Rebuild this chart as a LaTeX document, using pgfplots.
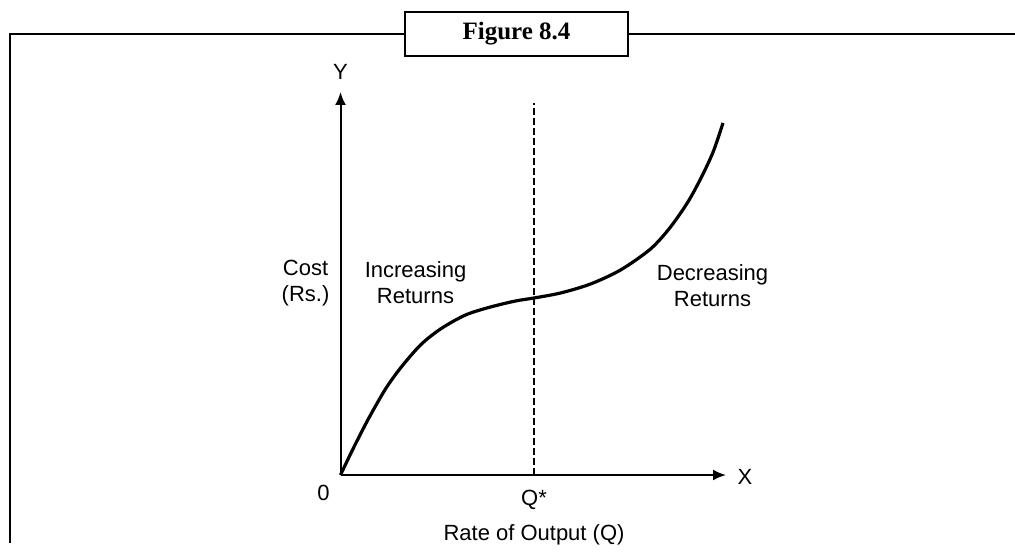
\documentclass[border=0pt]{standalone}
\usepackage{pgfplots}
\pgfplotsset{compat=1.18}
\usetikzlibrary{arrows.meta}
\usepackage{fontspec}
\setmainfont{Liberation Sans}
\newfontfamily\serifbold{Liberation Serif}
\begin{document}
\begin{tikzpicture}
\begin{scope}[x=0.5pt,y=-0.5pt,yshift=271.5pt]
% canvas 1015 x 543 px, y downward
\useasboundingbox (0,0) rectangle (1015,543);
\draw[line width=1.1pt] (10,543) -- (10,34) -- (1015,34);
\draw[line width=1.1pt,fill=white] (405,12) rectangle (628,56);
\node[font=\serifbold\bfseries\fontsize{12.5}{13}\selectfont] at (516.5,34) {Figure 8.4};
\end{scope}
\begin{axis}[
  at={(170.25pt,34pt)}, anchor=origin,
  scale only axis, width=192.75pt, height=191.5pt,
  xmin=0, xmax=385.5, ymin=0, ymax=383,
  axis x line=bottom, axis y line=left,
  axis line style={line width=1pt,-{Latex[length=6.5pt,width=5.5pt]}},
  xtick={193.5}, xticklabels={Q*}, ytick=\empty,
  major tick length=0pt,
  xticklabel style={font=\fontsize{11}{13}\selectfont, anchor=center, yshift=-12.5pt},
  xlabel={Rate of Output (Q)},
  xlabel style={font=\fontsize{11}{13}\selectfont, at={(axis cs:193.5,-60)}, anchor=center},
  clip=false,
]
\addplot[line width=1.6pt, smooth, tension=0.5] coordinates {
 (0,0) (10,21) (20,41) (30,60) (45,86) (60,107) (80,130) (100,146) (125,160)
 (150,168) (175,174) (193.5,177) (220,182) (250,191) (280,205) (310,226)
 (330,248) (348,274) (362,300) (373,324) (382.5,352)
};
\draw[line width=1pt, dash pattern=on 3.5pt off 1.5pt] (axis cs:193.5,0) -- (axis cs:193.5,372);
\node[font=\fontsize{11}{13}\selectfont] at (axis cs:-17,-18) {0};
\node[font=\fontsize{11}{13}\selectfont] at (axis cs:404.5,-2) {X};
\node[font=\fontsize{11}{13}\selectfont] at (axis cs:0,403) {Y};
\node[font=\fontsize{11}{13}\selectfont, align=center] at (axis cs:-35,192) {Cost\\(Rs.)};
\node[font=\fontsize{11}{13}\selectfont, align=center] at (axis cs:75,192) {Increasing\\Returns};
\node[font=\fontsize{11}{13}\selectfont, align=center] at (axis cs:372,189) {Decreasing\\Returns};
\end{axis}
\end{tikzpicture}
\end{document}
